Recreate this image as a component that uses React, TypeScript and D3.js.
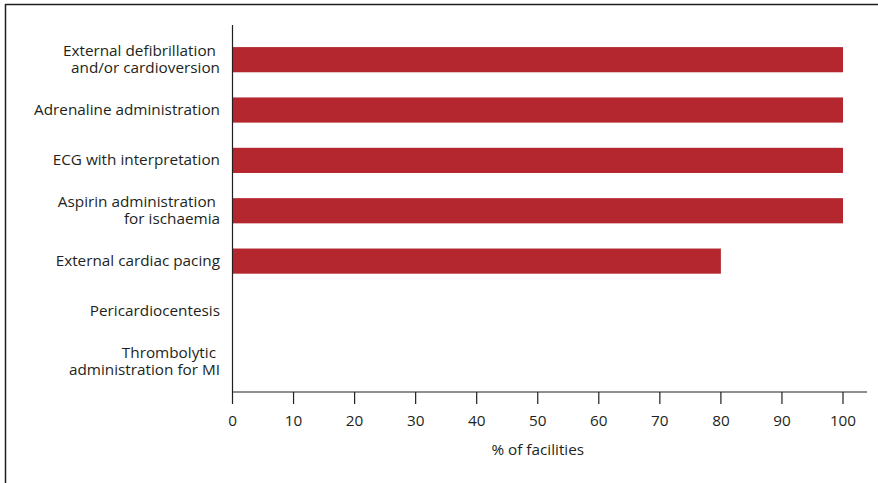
import React, { useEffect, useRef } from "react";
import * as d3 from "d3";

const categories: string[][] = [
  ["External defibrillation", "and/or cardioversion"],
  ["Adrenaline administration"],
  ["ECG with interpretation"],
  ["Aspirin administration", "for ischaemia"],
  ["External cardiac pacing"],
  ["Pericardiocentesis"],
  ["Thrombolytic", "administration for MI"],
];
const values: number[] = [100, 100, 100, 100, 80, 0, 0];
const xTicks: number[] = [0, 10, 20, 30, 40, 50, 60, 70, 80, 90, 100];
const xTitle = "% of facilities";

const W = 878;
const H = 483;
const FONT = "'Open Sans', 'Noto Sans', sans-serif";
const FS = 15.3;
const TEXT = "#231f20";
const BAR = "#b5272f";

export default function App() {
  const ref = useRef<SVGSVGElement>(null);
  useEffect(() => {
    const svg = d3.select(ref.current!);
    svg.selectAll("*").remove();
    const x = d3.scaleLinear().domain([0, 100]).range([232.5, 843]);
    const y = d3
      .scaleBand<number>()
      .domain(d3.range(categories.length))
      .range([34.5, 387])
      .paddingInner(0.5)
      .paddingOuter(0.25);

    // frame
    svg.append("line").attr("x1", 5).attr("x2", W).attr("y1", 4.5).attr("y2", 4.5)
      .attr("stroke", "#231f20").attr("stroke-width", 1.5);
    svg.append("line").attr("x1", 5.5).attr("x2", 5.5).attr("y1", 4).attr("y2", H)
      .attr("stroke", "#231f20").attr("stroke-width", 1.5);

    // bars
    svg.selectAll("rect.bar").data(values).join("rect")
      .attr("class", "bar")
      .attr("x", x(0))
      .attr("y", (_d, i) => y(i)!)
      .attr("width", (d) => x(d) - x(0))
      .attr("height", y.bandwidth())
      .attr("fill", BAR);

    // y axis line
    svg.append("line").attr("x1", 232.5).attr("x2", 232.5).attr("y1", 25).attr("y2", 392)
      .attr("stroke", TEXT).attr("stroke-width", 1.2);
    // x axis line
    svg.append("line").attr("x1", 232).attr("x2", 867).attr("y1", 392).attr("y2", 392)
      .attr("stroke", TEXT).attr("stroke-width", 1.2);

    const tg = svg.append("g");
    tg.selectAll("line").data(xTicks).join("line")
      .attr("x1", (d) => x(d)).attr("x2", (d) => x(d))
      .attr("y1", 392).attr("y2", 404)
      .attr("stroke", TEXT).attr("stroke-width", 1.2);
    tg.selectAll("text").data(xTicks).join("text")
      .attr("x", (d) => x(d)).attr("y", 425.5)
      .attr("text-anchor", "middle")
      .attr("font-family", FONT).attr("font-size", FS).attr("fill", TEXT)
      .text((d) => String(d));

    svg.append("text").attr("x", x(50)).attr("y", 455)
      .attr("text-anchor", "middle")
      .attr("font-family", FONT).attr("font-size", FS).attr("fill", TEXT)
      .text(xTitle);

    // y labels (multi-line labels as one text with tspans)
    categories.forEach((lines, i) => {
      const cy = y(i)! + y.bandwidth() / 2;
      const lh = 17;
      const start = cy - ((lines.length - 1) * lh) / 2;
      const t = svg.append("text")
        .attr("text-anchor", "end")
        .attr("font-family", FONT).attr("font-size", FS).attr("fill", TEXT);
      lines.forEach((ln, j) => {
        t.append("tspan")
          .attr("x", lines.length > 1 && j === 0 ? 216 : 220)
          .attr("y", start + j * lh + 5)
          .text(ln);
      });
    });
  }, []);
  return <svg ref={ref} width={W} height={H} style={{ display: "block", position: "absolute", left: 0, top: 0 }} />;
}
